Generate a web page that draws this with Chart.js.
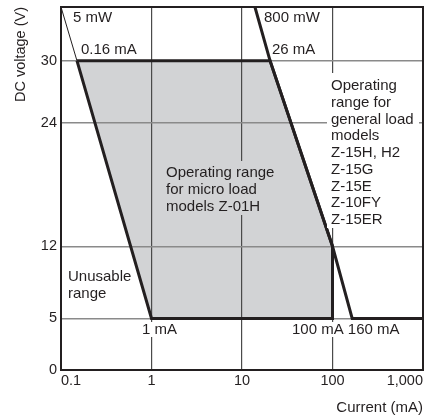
<!DOCTYPE html>
<html>
<head>
<meta charset="utf-8">
<script src="https://cdn.jsdelivr.net/npm/chart.js@4.4.1/dist/chart.umd.min.js"></script>
<style>
  html, body { margin: 0; padding: 0; background: #ffffff; }
  canvas { display: block; }
</style>
</head>
<body>
<canvas id="c" width="425" height="418"></canvas>
<script>
// ---- data ----
const CURRENT_TICKS = [0.1, 1, 10, 100, 1000];
const CURRENT_TICK_LABELS = ['0.1', '1', '10', '100', '1,000'];
const VOLTAGE_TICKS = [0, 5, 12, 24, 30];
const CURRENT_MIN = 0.1;
const CURRENT_MAX = 1000;
const VOLTAGE_MIN = 0;
const VOLTAGE_MAX = 35.2;

// micro load (Z-01H) operating region boundary, mA / V
const microCurrent = [0.15, 20.4, 100, 100, 1, 0.15];
const microVoltage = [30, 30, 12, 5, 5, 30];

// 5 mW limit line
const limit5mWCurrent = [0.1, 0.15];
const limit5mWVoltage = [35.2, 30];

// 800 mW / general load boundary
const generalCurrent = [13.9, 20.4, 100, 165, 1000];
const generalVoltage = [35.2, 30, 12, 5, 5];

// annotation texts
const LBL_5MW = '5 mW';
const LBL_016 = '0.16 mA';
const LBL_800MW = '800 mW';
const LBL_26 = '26 mA';
const LBL_GENERAL = ['Operating', 'range for', 'general load', 'models', 'Z-15H, H2', 'Z-15G', 'Z-15E', 'Z-10FY', 'Z-15ER'];
const LBL_MICRO = ['Operating range', 'for micro load', 'models Z-01H'];
const LBL_UNUSABLE = ['Unusable', 'range'];
const LBL_1MA = '1 mA';
const LBL_100_160 = '100 mA 160 mA';

// ---- styles ----
const TEXT = '#231f20';
const GRAY = '#d2d3d5';
const FONT = '"Liberation Sans", Arial, Helvetica, sans-serif';

Chart.defaults.font.family = FONT;
Chart.defaults.color = TEXT;

const pts = (xs, ys) => xs.map((x, i) => ({ x: x, y: ys[i] }));

const annotations = {
  id: 'annotations',
  afterDatasetsDraw(chart) {
    const ctx = chart.ctx;
    ctx.save();
    // background boxes that interrupt grid lines
    ctx.fillStyle = '#ffffff';
    ctx.fillRect(327, 73, 92, 155);
    ctx.fillRect(140, 322, 38, 15);
    ctx.fillRect(290, 322, 56, 15);
    ctx.fillStyle = GRAY;
    ctx.fillRect(163, 161, 114, 54);

    ctx.fillStyle = TEXT;
    ctx.font = '15px ' + FONT;
    ctx.textAlign = 'left';
    ctx.textBaseline = 'middle';
    ctx.fillText(LBL_5MW, 73, 18);
    ctx.fillText(LBL_016, 81, 50);
    ctx.fillText(LBL_800MW, 264, 18);
    ctx.fillText(LBL_26, 272, 50);
    LBL_GENERAL.forEach((t, i) => ctx.fillText(t, 331, 86 + i * 16.75));
    LBL_MICRO.forEach((t, i) => ctx.fillText(t, 166, 173 + i * 16.75));
    LBL_UNUSABLE.forEach((t, i) => ctx.fillText(t, 68, 277 + i * 17));
    ctx.fillText(LBL_1MA, 142, 330);
    ctx.fillText(LBL_100_160, 292, 330);
    ctx.restore();
  },
  afterDraw(chart) {
    const { left, top, right, bottom } = chart.chartArea;
    const ctx = chart.ctx;
    ctx.save();
    ctx.strokeStyle = TEXT;
    ctx.lineWidth = 2;
    ctx.strokeRect(left, top, right - left, bottom - top);
    ctx.restore();
  }
};

new Chart(document.getElementById('c'), {
  type: 'line',
  data: {
    datasets: [
      {
        data: pts(microCurrent, microVoltage),
        fill: 'shape',
        backgroundColor: GRAY,
        borderColor: TEXT,
        borderWidth: 3,
        borderJoinStyle: 'miter',
        pointRadius: 0,
        tension: 0
      },
      {
        data: pts(limit5mWCurrent, limit5mWVoltage),
        fill: false,
        borderColor: TEXT,
        borderWidth: 1,
        pointRadius: 0,
        tension: 0
      },
      {
        data: pts(generalCurrent, generalVoltage),
        fill: false,
        borderColor: TEXT,
        borderWidth: 3,
        borderJoinStyle: 'miter',
        pointRadius: 0,
        tension: 0
      }
    ]
  },
  options: {
    responsive: false,
    devicePixelRatio: 1,
    animation: false,
    layout: { padding: { left: 0, top: 7, right: 2, bottom: 0 } },
    plugins: {
      legend: { display: false },
      tooltip: { enabled: false },
      filler: { drawTime: 'beforeDraw' }
    },
    scales: {
      x: {
        type: 'logarithmic',
        min: CURRENT_MIN,
        max: CURRENT_MAX,
        afterBuildTicks(scale) {
          scale.ticks = CURRENT_TICKS.map(v => ({ value: v }));
        },
        afterFit(scale) {
          scale.height = 48;
          scale.paddingLeft = 0;
          scale.paddingRight = 0;
        },
        ticks: {
          autoSkip: false,
          maxRotation: 0,
          align: 'inner',
          padding: 2,
          font: { size: 14.5 },
          color: TEXT,
          callback: (v, i) => CURRENT_TICK_LABELS[i]
        },
        grid: {
          drawTicks: false,
          lineWidth: 1.2,
          color: ctx => (ctx.tick && (ctx.tick.value === CURRENT_MIN || ctx.tick.value === CURRENT_MAX)) ? 'rgba(0,0,0,0)' : '#4a4a4a'
        },
        border: { display: false },
        title: {
          display: true,
          text: 'Current (mA)',
          align: 'end',
          color: TEXT,
          font: { size: 15 },
          padding: { top: 0, bottom: 1 }
        }
      },
      y: {
        type: 'linear',
        min: VOLTAGE_MIN,
        max: VOLTAGE_MAX,
        afterBuildTicks(scale) {
          scale.ticks = VOLTAGE_TICKS.map(v => ({ value: v }));
        },
        afterFit(scale) {
          scale.width = 61;
          scale.paddingTop = 0;
          scale.paddingBottom = 0;
        },
        ticks: {
          autoSkip: false,
          padding: 4,
          font: { size: 14.5 },
          color: TEXT,
          callback: v => String(v)
        },
        grid: {
          drawTicks: false,
          lineWidth: 1.5,
          color: ctx => (ctx.tick && ctx.tick.value === VOLTAGE_MIN) ? 'rgba(0,0,0,0)' : '#8a8a8a'
        },
        border: { display: false },
        title: {
          display: true,
          text: 'DC voltage (V)',
          align: 'end',
          color: TEXT,
          font: { size: 14.5 },
          padding: { top: 12, bottom: 0 }
        }
      }
    }
  },
  plugins: [annotations]
});
</script>
</body>
</html>
